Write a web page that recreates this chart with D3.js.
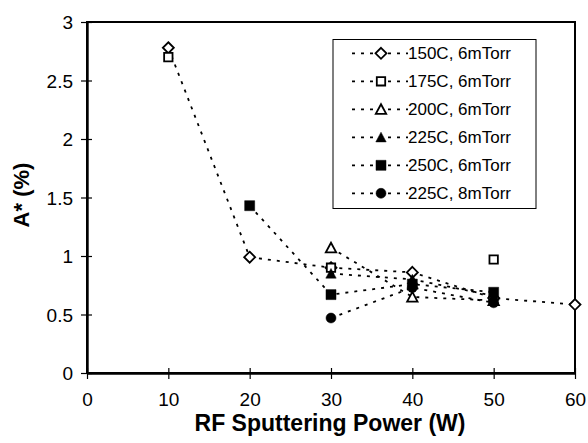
<!DOCTYPE html>
<html><head><meta charset="utf-8">
<script src="https://cdn.jsdelivr.net/npm/d3@7"></script>
<style>
html,body{margin:0;padding:0;background:#fff;}
svg{display:block;font-family:"Liberation Sans",Arial,sans-serif;}
</style></head>
<body><svg id="c" width="588" height="443"></svg>
<script>
const powers = [10, 20, 30, 40, 50, 60];
const seriesNames = ["150C, 6mTorr", "175C, 6mTorr", "200C, 6mTorr", "225C, 6mTorr", "250C, 6mTorr", "225C, 8mTorr"];
const s150 = [2.78, 0.99, 0.90, 0.86, 0.64, 0.585];
const s175 = [2.70, null, 0.90, null, 0.97, null];
const s200 = [null, null, 1.07, 0.65, 0.62, null];
const s225 = [null, null, 0.85, 0.80, 0.66, null];
const s250 = [null, 1.43, 0.67, 0.76, 0.69, null];
const s225b = [null, null, 0.47, 0.73, 0.60, null];
const markerShapes = ["diamond", "square", "triangle", "triangle", "square", "circle"];
const markerFilled = [false, false, false, true, true, true];
const xTicks = [0, 10, 20, 30, 40, 50, 60];
const yTicks = [0, 0.5, 1, 1.5, 2, 2.5, 3];
const xTitle = "RF Sputtering Power (W)";
const yTitle = "A* (%)";

const allSeries = [s150, s175, s200, s225, s250, s225b];

const svg = d3.select("#c");
const L = 87, R = 575, T = 22, B = 373;
const x = d3.scaleLinear().domain([0, 60]).range([L, R]);
const y = d3.scaleLinear().domain([0, 3]).range([B, T]);

// plot frame
svg.append("rect").attr("x", L).attr("y", T).attr("width", R - L).attr("height", B - T)
  .attr("fill", "none").attr("stroke", "#000").attr("stroke-width", 2);

// axes
const xAxis = svg.append("g").attr("transform", `translate(0,${B})`)
  .call(d3.axisBottom(x).tickValues(xTicks).tickSizeInner(6).tickSizeOuter(0).tickPadding(14).tickFormat(d3.format("d")));
xAxis.select(".domain").attr("stroke-width", 2.4);
xAxis.selectAll(".tick line").attr("y1", -5).attr("y2", 6).attr("stroke-width", 1.2);
xAxis.selectAll(".tick text").attr("font-size", 19).attr("font-family", "Liberation Sans, Arial, sans-serif").attr("fill", "#000");

const yAxis = svg.append("g").attr("transform", `translate(${L},0)`)
  .call(d3.axisLeft(y).tickValues(yTicks).tickSizeInner(6).tickSizeOuter(0).tickPadding(8).tickFormat(d => String(d)));
yAxis.select(".domain").attr("stroke-width", 2.4);
yAxis.selectAll(".tick line").attr("x1", -6).attr("x2", 5).attr("stroke-width", 1.2);
yAxis.selectAll(".tick text").attr("font-size", 19).attr("font-family", "Liberation Sans, Arial, sans-serif").attr("fill", "#000").attr("dy", "0.36em");

// titles
svg.append("text").attr("x", (L + R) / 2 - 1).attr("y", 431).attr("text-anchor", "middle")
  .attr("font-size", 23).attr("font-weight", "bold").text(xTitle);
svg.append("text").attr("transform", `translate(29,195) rotate(-90)`).attr("text-anchor", "middle")
  .attr("font-size", 22).attr("font-weight", "bold").text(yTitle);

// marker path generator
function markerPath(shape, filled) {
  if (shape === "diamond") { const r = 5.5; return `M0,${-r}L${r},0L0,${r}L${-r},0Z`; }
  if (shape === "square") { const h = filled ? 5 : 4.2; return `M${-h},${-h}H${h}V${h}H${-h}Z`; }
  if (shape === "triangle") { const w = 5.2, h = 4.6; return `M0,${-h - 0.5}L${w},${h}L${-w},${h}Z`; }
  if (shape === "circle") { return d3.symbol().type(d3.symbolCircle).size(Math.PI * 25)(); }
}

const dash = "3,6";
const line = d3.line().defined(d => d[1] !== null).x(d => x(d[0])).y(d => y(d[1]));

const linesG = svg.append("g");
allSeries.forEach(s => {
  const pts = powers.map((p, i) => [p, s[i]]);
  linesG.append("path").attr("d", line(pts)).attr("fill", "none").attr("stroke", "#000")
    .attr("stroke-width", 1.8).attr("stroke-dasharray", dash);
});

const marksG = svg.append("g");
allSeries.forEach((s, k) => {
  const pts = powers.map((p, i) => [p, s[i]]).filter(d => d[1] !== null);
  marksG.selectAll(null).data(pts).enter().append("path")
    .attr("transform", d => `translate(${x(d[0])},${y(d[1])})`)
    .attr("d", markerPath(markerShapes[k], markerFilled[k]))
    .attr("fill", markerFilled[k] ? "#000" : "#fff")
    .attr("stroke", "#000").attr("stroke-width", markerFilled[k] ? 0.5 : 1.8);
});

// legend
const lg = svg.append("g");
lg.append("rect").attr("x", 333).attr("y", 39.5).attr("width", 203).attr("height", 169)
  .attr("fill", "#fff").attr("stroke", "#000").attr("stroke-width", 1);
seriesNames.forEach((name, k) => {
  const cy = 53.3 + k * 28;
  lg.append("line").attr("x1", 352).attr("x2", 408).attr("y1", cy).attr("y2", cy)
    .attr("stroke", "#000").attr("stroke-width", 1.8).attr("stroke-dasharray", dash);
  lg.append("path").attr("transform", `translate(381,${cy})`)
    .attr("d", markerPath(markerShapes[k], markerFilled[k]))
    .attr("fill", markerFilled[k] ? "#000" : "#fff")
    .attr("stroke", "#000").attr("stroke-width", markerFilled[k] ? 0.5 : 1.8);
  lg.append("text").attr("x", 408).attr("y", cy).attr("dy", "0.36em")
    .attr("font-size", 17).text(name);
});
</script>
</body></html>
